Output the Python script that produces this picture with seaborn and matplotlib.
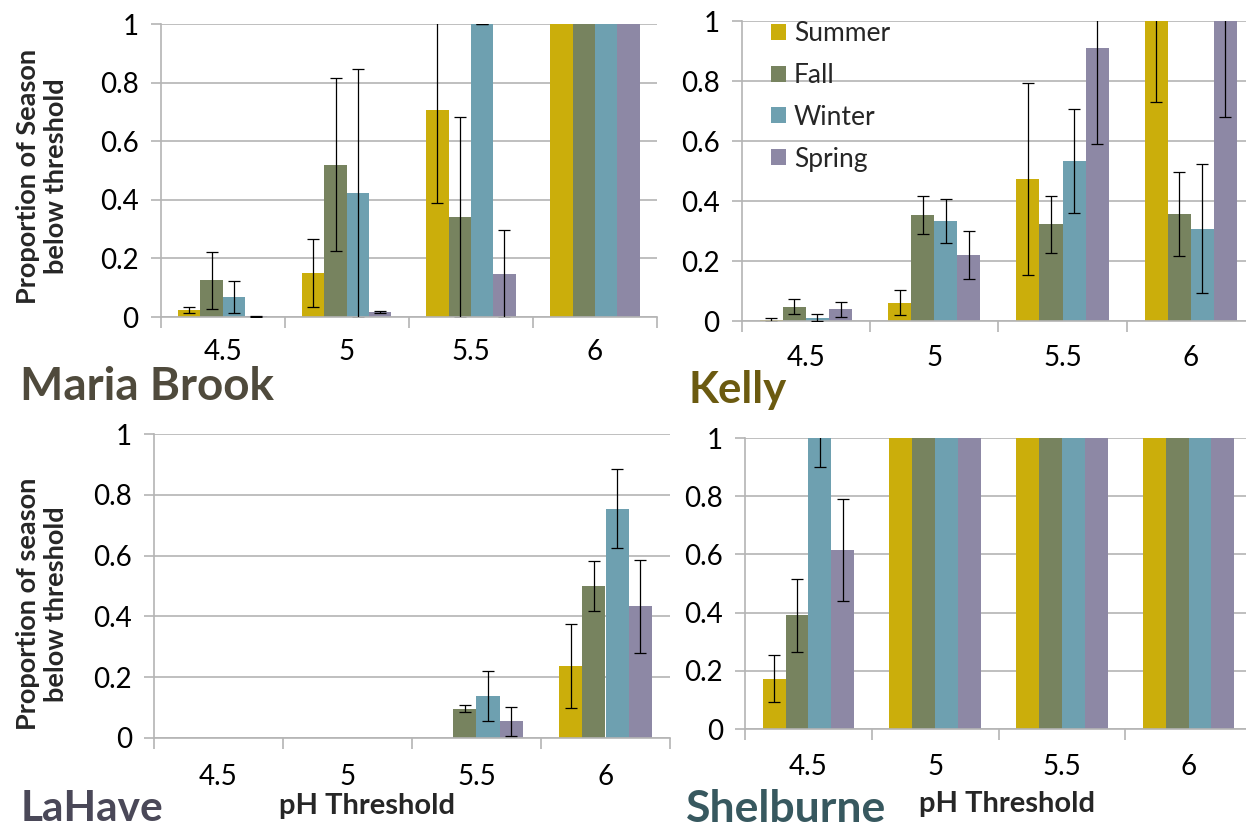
import numpy as np
import pandas as pd
import matplotlib
matplotlib.use("Agg")
import matplotlib.pyplot as plt
import seaborn as sns
from matplotlib.patches import Patch
from matplotlib.ticker import FixedLocator

# ---------------------------------------------------------------- data
thresholds = ["4.5", "5", "5.5", "6"]
seasons = ["Summer", "Fall", "Winter", "Spring"]
season_colors = ["#CBAE0B", "#77835F", "#6EA0B0", "#8D88A5"]
nan = np.nan

# rows: Summer, Fall, Winter, Spring ; columns: pH thresholds
maria_brook_prop = [[0.023, 0.151, 0.706, 1.0],
                    [0.125, 0.520, 0.340, 1.0],
                    [0.068, 0.423, 1.000, 1.0],
                    [0.003, 0.017, 0.146, 1.0]]
maria_brook_err = [[0.011, 0.117, 0.315, nan],
                   [0.097, 0.295, 0.342, nan],
                   [0.054, 0.425, 0.000, nan],
                   [0.002, 0.005, 0.150, nan]]

kelly_prop = [[0.003, 0.061, 0.474, 1.0],
              [0.048, 0.353, 0.322, 0.358],
              [0.011, 0.334, 0.534, 0.308],
              [0.039, 0.221, 0.909, 1.0]]
kelly_err = [[0.007, 0.041, 0.320, 0.270],
             [0.024, 0.063, 0.096, 0.140],
             [0.012, 0.074, 0.173, 0.215],
             [0.025, 0.080, 0.320, 0.320]]

lahave_prop = [[0.0, 0.0, 0.000, 0.237],
               [0.0, 0.0, 0.096, 0.500],
               [0.0, 0.0, 0.138, 0.754],
               [0.0, 0.0, 0.054, 0.433]]
lahave_err = [[nan, nan, nan, 0.138],
              [nan, nan, 0.012, 0.082],
              [nan, nan, 0.083, 0.130],
              [nan, nan, 0.048, 0.153]]

shelburne_prop = [[0.173, 1.0, 1.0, 1.0],
                  [0.391, 1.0, 1.0, 1.0],
                  [1.000, 1.0, 1.0, 1.0],
                  [0.616, 1.0, 1.0, 1.0]]
shelburne_err = [[0.081, nan, nan, nan],
                 [0.125, nan, nan, nan],
                 [0.100, nan, nan, nan],
                 [0.176, nan, nan, nan]]

# ---------------------------------------------------------------- style
sns.set_style("white")
plt.rcParams["font.family"] = ["Lato", "DejaVu Sans"]

W, H = 1246, 832
fig = plt.figure(figsize=(W / 100, H / 100), dpi=100)
fig.patch.set_facecolor("white")

GRID = "#b4b4b4"
TICK_SIZE = 20


def px_axes(x0, x1, y_top, y_bot):
    """Axes placed from pixel edges of the canvas."""
    return fig.add_axes([x0 / W, 1 - y_bot / H, (x1 - x0) / W, (y_bot - y_top) / H])


def draw_panel(ax, props, errs, xpad=20):
    df = pd.DataFrame({
        "threshold": np.tile(thresholds, len(seasons)),
        "season": np.repeat(seasons, len(thresholds)),
        "prop": np.ravel(props),
    })
    sns.barplot(data=df, x="threshold", y="prop", hue="season",
                order=thresholds, hue_order=seasons, palette=season_colors,
                width=0.72, saturation=1, errorbar=None, linewidth=0,
                legend=False, ax=ax, zorder=2)
    bar_containers = list(ax.containers)
    for i, cont in enumerate(bar_containers):
        for j, bar in enumerate(cont):
            e = errs[i][j]
            if np.isnan(e):
                continue
            xc = bar.get_x() + bar.get_width() / 2
            ax.errorbar(xc, props[i][j], yerr=e, fmt="none", ecolor="black",
                        elinewidth=0.9, capsize=4, capthick=0.9, zorder=3)

    ax.set_xlim(-0.5, 3.5)
    ax.set_ylim(0, 1)
    ax.set_xlabel("")
    ax.set_ylabel("")
    ax.set_yticks([0, 0.2, 0.4, 0.6, 0.8, 1.0])
    ax.set_yticklabels(["0", "0.2", "0.4", "0.6", "0.8", "1"])
    ax.yaxis.grid(True, color=GRID, lw=1.2)
    ax.xaxis.grid(False)
    ax.set_axisbelow(True)
    for s in ("top", "right"):
        ax.spines[s].set_visible(False)
    for s in ("left", "bottom"):
        ax.spines[s].set_color(GRID)
        ax.spines[s].set_linewidth(1.2)
    ax.tick_params(axis="y", which="major", direction="out", length=7,
                   width=1.2, color=GRID, pad=9, labelsize=TICK_SIZE,
                   labelcolor="black", left=True)
    ax.tick_params(axis="x", which="major", length=0, pad=xpad,
                   labelsize=TICK_SIZE, labelcolor="black")
    ax.xaxis.set_minor_locator(FixedLocator([-0.5, 0.5, 1.5, 2.5, 3.5]))
    ax.tick_params(axis="x", which="minor", direction="out", length=8,
                   width=1.2, color=GRID, bottom=True)
    ax.patch.set_alpha(0)


ax_mb = px_axes(160.7, 657, 24.3, 317)
ax_ke = px_axes(741.7, 1255, 21, 321)
ax_lh = px_axes(154, 670, 434.3, 737.7)
ax_sh = px_axes(745, 1252, 438, 729)

draw_panel(ax_mb, maria_brook_prop, maria_brook_err, xpad=16)
draw_panel(ax_ke, kelly_prop, kelly_err, xpad=17)
draw_panel(ax_lh, lahave_prop, lahave_err, xpad=19)
draw_panel(ax_sh, shelburne_prop, shelburne_err, xpad=18)

# legend inside the Kelly panel
handles = [Patch(facecolor=c, edgecolor="none") for c in season_colors]
fig.legend(handles, seasons, loc="upper left",
           bbox_to_anchor=(771 / W, 1 - 21 / H), bbox_transform=fig.transFigure,
           frameon=False, fontsize=19, handlelength=0.56, handleheight=0.56,
           handletextpad=0.3, labelspacing=0.64, borderpad=0, borderaxespad=0)

# y-axis titles
fig.text(42 / W, 1 - 176 / H, "Proportion of Season\nbelow threshold",
         rotation=90, ha="center", va="center", multialignment="center",
         fontsize=19.5, fontweight="bold", linespacing=1.2)
fig.text(42 / W, 1 - 604 / H, "Proportion of season\nbelow threshold",
         rotation=90, ha="center", va="center", multialignment="center",
         fontsize=19.5, fontweight="bold", linespacing=1.2)

# x-axis titles
fig.text(367 / W, 1 - 806 / H, "pH Threshold", ha="center", va="center",
         fontsize=21, fontweight="bold")
fig.text(1007 / W, 1 - 804 / H, "pH Threshold", ha="center", va="center",
         fontsize=21, fontweight="bold")

# site names
fig.text(20 / W, 1 - 400 / H, "Maria Brook", ha="left", va="baseline",
         fontsize=33, fontweight="bold", color="#4F4A3C")
fig.text(688 / W, 1 - 403 / H, "Kelly", ha="left", va="baseline",
         fontsize=31.5, fontweight="bold", color="#6B5A10")
fig.text(21 / W, 1 - 821 / H, "LaHave", ha="left", va="baseline",
         fontsize=30.5, fontweight="bold", color="#4A4858")
fig.text(686 / W, 1 - 822 / H, "Shelburne", ha="left", va="baseline",
         fontsize=32, fontweight="bold", color="#37585F")

fig.savefig("out.png", dpi=100, facecolor="white")
